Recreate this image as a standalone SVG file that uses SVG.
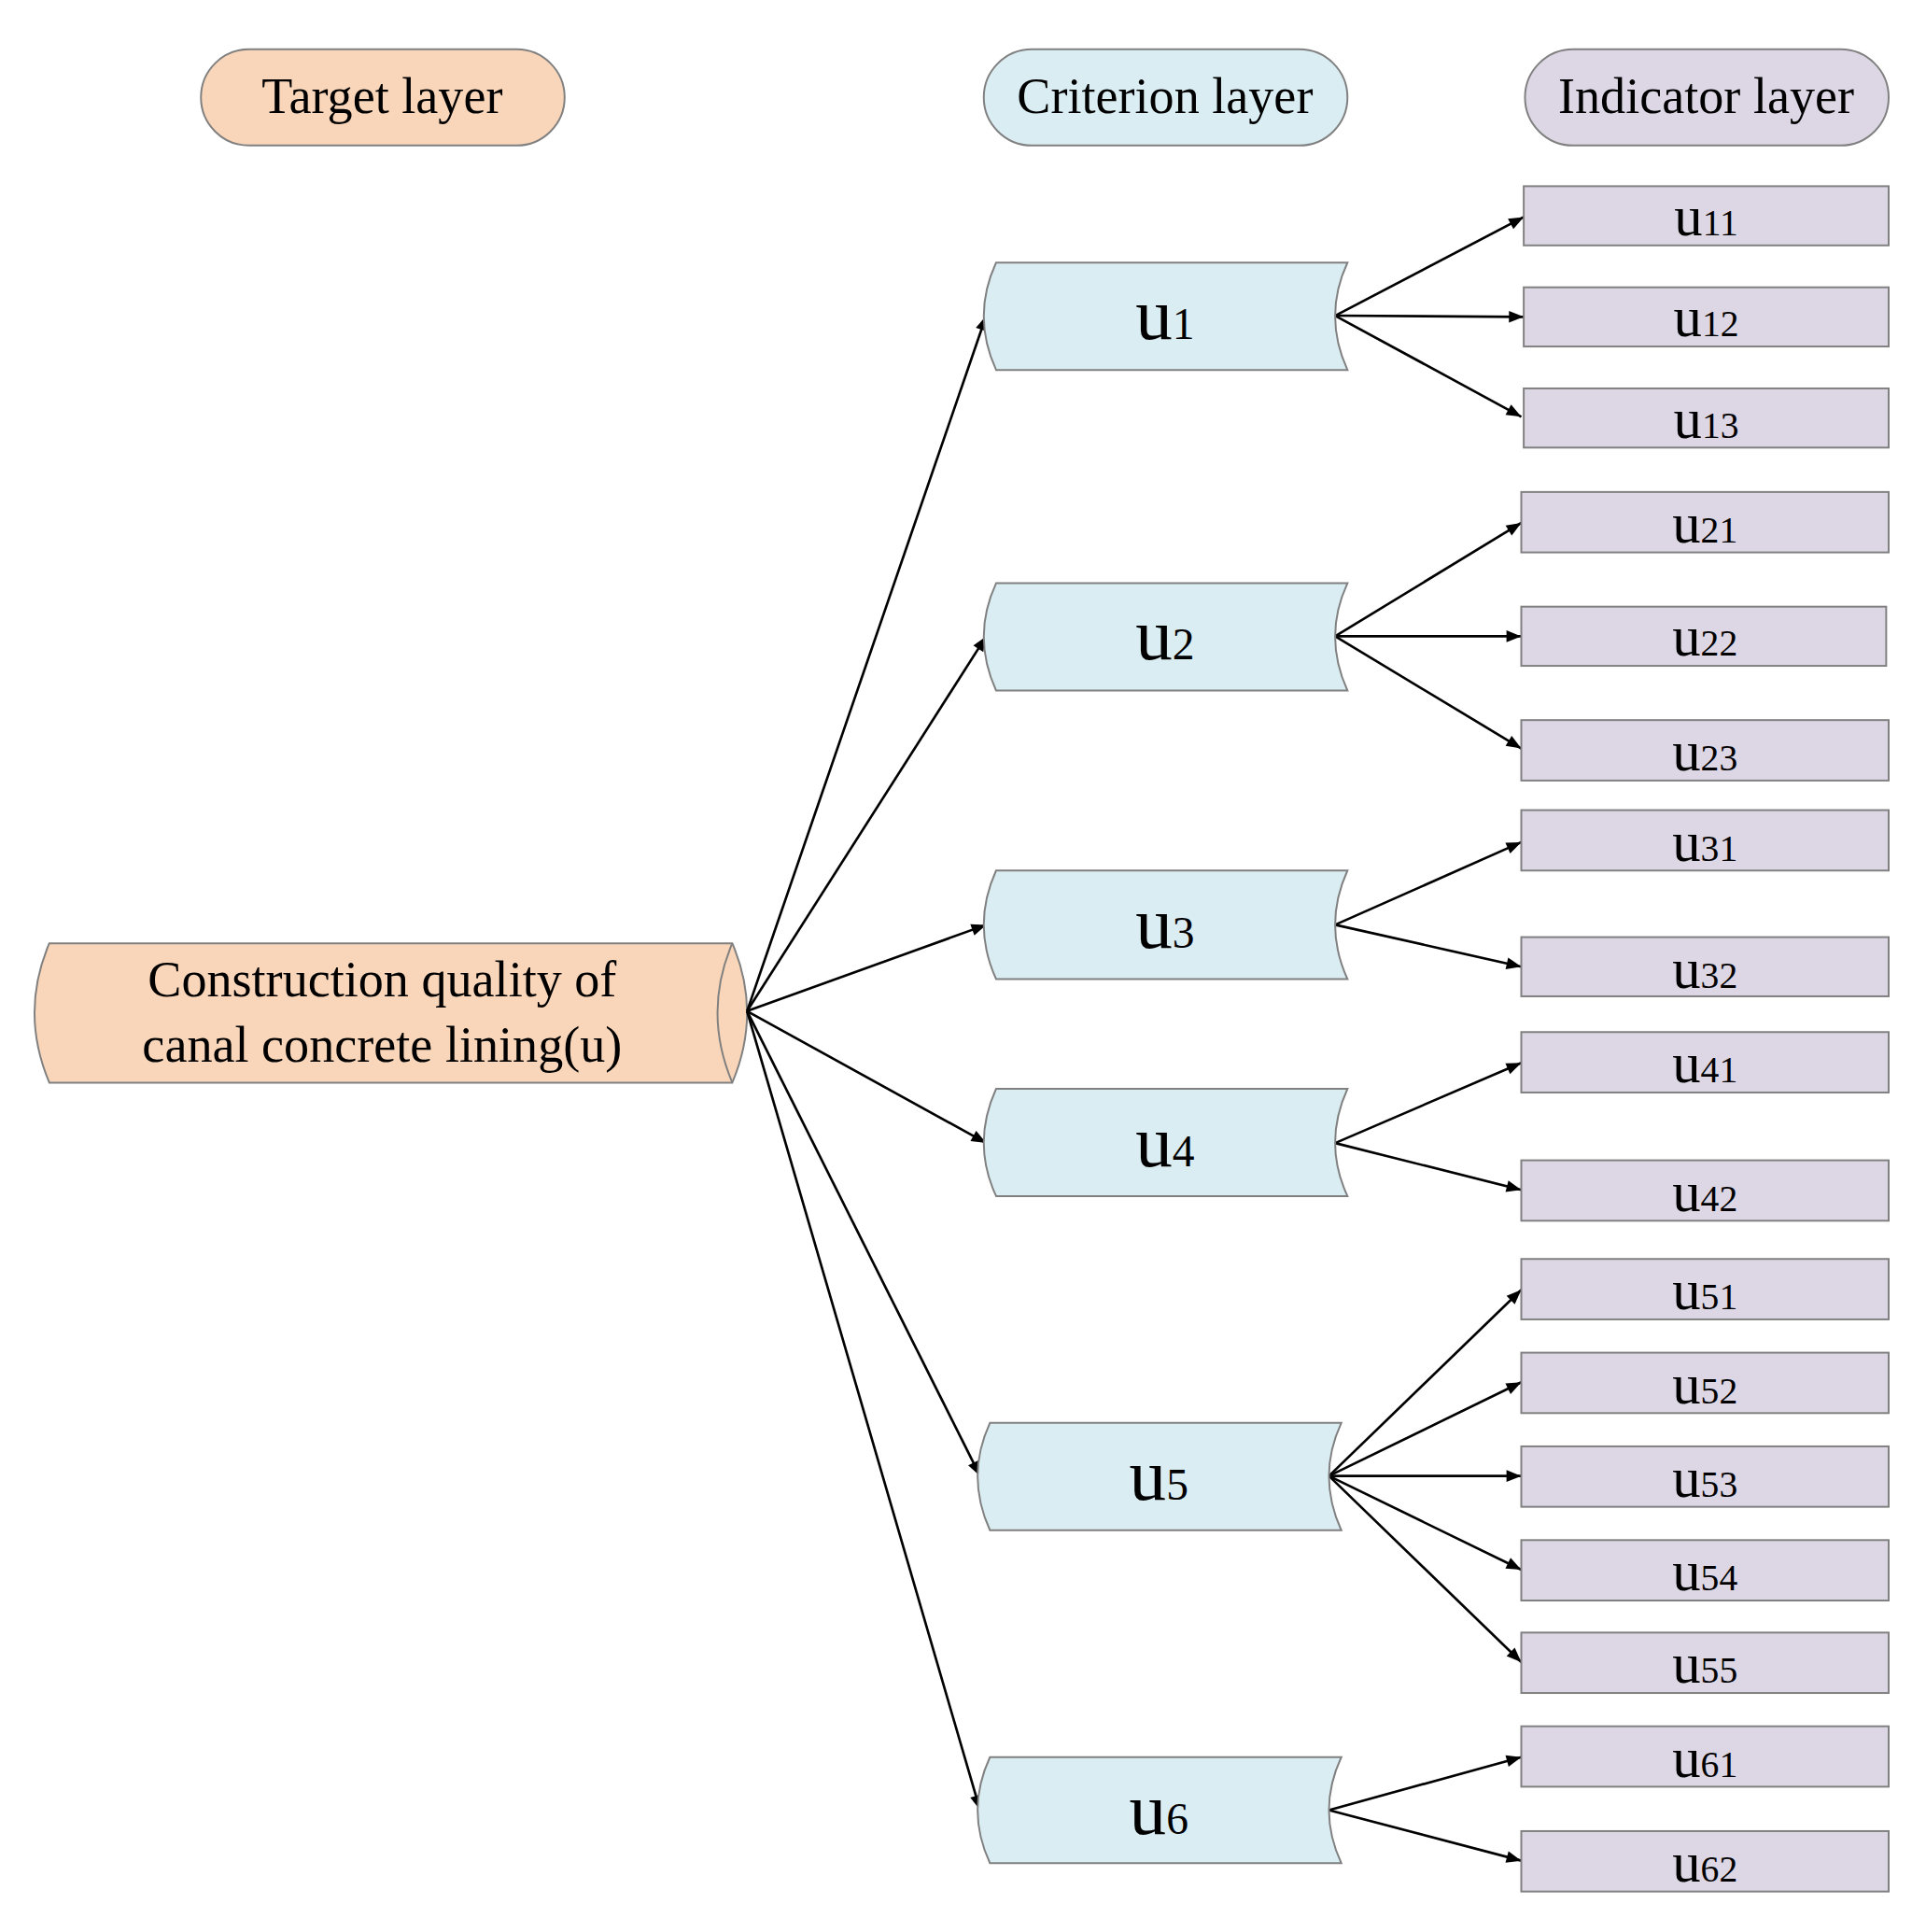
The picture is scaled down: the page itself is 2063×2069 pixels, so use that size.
<svg xmlns="http://www.w3.org/2000/svg" width="2063" height="2069" viewBox="0 0 2063 2069">
<defs>
<style>
.t{font-family:"Liberation Serif",serif;fill:#000;text-anchor:middle}
.pe{fill:#f9d6b9;stroke:#808080;stroke-width:1.5}
.bl{fill:#daedf2;stroke:#808080;stroke-width:1.5}
.lv{fill:#ddd7e5;stroke:#808080;stroke-width:1.5}
.e{stroke:#000;stroke-width:2;fill:none;marker-end:url(#a)}
</style>
<marker id="a" viewBox="0 0 10 10" refX="10" refY="5" markerWidth="14" markerHeight="12" markerUnits="userSpaceOnUse" orient="auto"><path d="M0,1 L10,5 L0,9 Z" fill="#000"/></marker>
</defs>
<rect width="2063" height="2069" fill="#fff"/>
<g transform="scale(1.3205)">
<g id="h-target"><rect class="pe" x="163" y="40" width="295" height="78" rx="39"/><text class="t" x="310" y="92" font-size="41">Target layer</text></g>
<g id="h-criterion"><rect class="bl" x="798" y="40" width="295" height="78" rx="39"/><text class="t" x="945" y="92" font-size="41">Criterion layer</text></g>
<g id="h-indicator"><rect class="lv" x="1237" y="40" width="295" height="78" rx="39"/><text class="t" x="1384" y="92" font-size="41">Indicator layer</text></g>
<g id="target"><path class="pe" d="M40,765 L594,765 Q618,821 594,878 L40,878 Q16,821 40,765 Z"/><path d="M594,765 Q570,821 594,878" fill="none" stroke="#808080" stroke-width="1.5"/>
<text class="t" x="310" y="808" font-size="41">Construction quality of</text><text class="t" x="310" y="861" font-size="41">canal concrete lining(u)</text></g>
<g id="connectors">
<line class="e" x1="606" y1="820" x2="800" y2="256"/>
<line class="e" x1="606" y1="820" x2="800" y2="516"/>
<line class="e" x1="606" y1="820" x2="800" y2="750"/>
<line class="e" x1="606" y1="820" x2="800" y2="927"/>
<line class="e" x1="606" y1="820" x2="795" y2="1197"/>
<line class="e" x1="606" y1="820" x2="795" y2="1468"/>
<line class="e" x1="1083" y1="256" x2="1236" y2="176"/>
<line class="e" x1="1083" y1="256" x2="1236" y2="257"/>
<line class="e" x1="1083" y1="256" x2="1234" y2="338"/>
<line class="e" x1="1083" y1="516" x2="1234" y2="424"/>
<line class="e" x1="1083" y1="516" x2="1234" y2="516"/>
<line class="e" x1="1083" y1="516" x2="1234" y2="607"/>
<line class="e" x1="1083" y1="750" x2="1234" y2="683"/>
<line class="e" x1="1083" y1="750" x2="1234" y2="784"/>
<line class="e" x1="1083" y1="927" x2="1234" y2="862"/>
<line class="e" x1="1083" y1="927" x2="1234" y2="965"/>
<line class="e" x1="1078" y1="1197" x2="1234" y2="1046"/>
<line class="e" x1="1078" y1="1197" x2="1234" y2="1121"/>
<line class="e" x1="1078" y1="1197" x2="1234" y2="1197"/>
<line class="e" x1="1078" y1="1197" x2="1234" y2="1273"/>
<line class="e" x1="1078" y1="1197" x2="1234" y2="1348"/>
<line class="e" x1="1078" y1="1468" x2="1234" y2="1425"/>
<line class="e" x1="1078" y1="1468" x2="1234" y2="1509"/>
</g>
<g id="u1"><path class="bl" d="M808,213 L1093,213 Q1073,256 1093,300 L808,300 Q788,256 808,213 Z"/><text class="t" x="945" y="275" font-size="60">u<tspan font-size="36">1</tspan></text></g>
<g id="u2"><path class="bl" d="M808,473 L1093,473 Q1073,516 1093,560 L808,560 Q788,516 808,473 Z"/><text class="t" x="945" y="535" font-size="60">u<tspan font-size="36">2</tspan></text></g>
<g id="u3"><path class="bl" d="M808,706 L1093,706 Q1073,750 1093,794 L808,794 Q788,750 808,706 Z"/><text class="t" x="945" y="769" font-size="60">u<tspan font-size="36">3</tspan></text></g>
<g id="u4"><path class="bl" d="M808,883 L1093,883 Q1073,927 1093,970 L808,970 Q788,927 808,883 Z"/><text class="t" x="945" y="946" font-size="60">u<tspan font-size="36">4</tspan></text></g>
<g id="u5"><path class="bl" d="M803,1154 L1088,1154 Q1068,1197 1088,1241 L803,1241 Q783,1197 803,1154 Z"/><text class="t" x="940" y="1216" font-size="60">u<tspan font-size="36">5</tspan></text></g>
<g id="u6"><path class="bl" d="M803,1425 L1088,1425 Q1068,1468 1088,1511 L803,1511 Q783,1468 803,1425 Z"/><text class="t" x="940" y="1487" font-size="60">u<tspan font-size="36">6</tspan></text></g>
<g id="u11"><rect class="lv" x="1236" y="151" width="296" height="48"/><text class="t" x="1384" y="191" font-size="46">u<tspan font-size="30">11</tspan></text></g>
<g id="u12"><rect class="lv" x="1236" y="233" width="296" height="48"/><text class="t" x="1384" y="273" font-size="46">u<tspan font-size="30">12</tspan></text></g>
<g id="u13"><rect class="lv" x="1236" y="315" width="296" height="48"/><text class="t" x="1384" y="355" font-size="46">u<tspan font-size="30">13</tspan></text></g>
<g id="u21"><rect class="lv" x="1234" y="399" width="298" height="49"/><text class="t" x="1383" y="440" font-size="46">u<tspan font-size="30">21</tspan></text></g>
<g id="u22"><rect class="lv" x="1234" y="492" width="296" height="48"/><text class="t" x="1383" y="532" font-size="46">u<tspan font-size="30">22</tspan></text></g>
<g id="u23"><rect class="lv" x="1234" y="584" width="298" height="49"/><text class="t" x="1383" y="625" font-size="46">u<tspan font-size="30">23</tspan></text></g>
<g id="u31"><rect class="lv" x="1234" y="657" width="298" height="49"/><text class="t" x="1383" y="698" font-size="46">u<tspan font-size="30">31</tspan></text></g>
<g id="u32"><rect class="lv" x="1234" y="760" width="298" height="48"/><text class="t" x="1383" y="801" font-size="46">u<tspan font-size="30">32</tspan></text></g>
<g id="u41"><rect class="lv" x="1234" y="837" width="298" height="49"/><text class="t" x="1383" y="878" font-size="46">u<tspan font-size="30">41</tspan></text></g>
<g id="u42"><rect class="lv" x="1234" y="941" width="298" height="49"/><text class="t" x="1383" y="982" font-size="46">u<tspan font-size="30">42</tspan></text></g>
<g id="u51"><rect class="lv" x="1234" y="1021" width="298" height="49"/><text class="t" x="1383" y="1062" font-size="46">u<tspan font-size="30">51</tspan></text></g>
<g id="u52"><rect class="lv" x="1234" y="1097" width="298" height="49"/><text class="t" x="1383" y="1138" font-size="46">u<tspan font-size="30">52</tspan></text></g>
<g id="u53"><rect class="lv" x="1234" y="1173" width="298" height="49"/><text class="t" x="1383" y="1214" font-size="46">u<tspan font-size="30">53</tspan></text></g>
<g id="u54"><rect class="lv" x="1234" y="1249" width="298" height="49"/><text class="t" x="1383" y="1290" font-size="46">u<tspan font-size="30">54</tspan></text></g>
<g id="u55"><rect class="lv" x="1234" y="1324" width="298" height="49"/><text class="t" x="1383" y="1365" font-size="46">u<tspan font-size="30">55</tspan></text></g>
<g id="u61"><rect class="lv" x="1234" y="1400" width="298" height="49"/><text class="t" x="1383" y="1441" font-size="46">u<tspan font-size="30">61</tspan></text></g>
<g id="u62"><rect class="lv" x="1234" y="1485" width="298" height="49"/><text class="t" x="1383" y="1526" font-size="46">u<tspan font-size="30">62</tspan></text></g>
</g>
</svg>
